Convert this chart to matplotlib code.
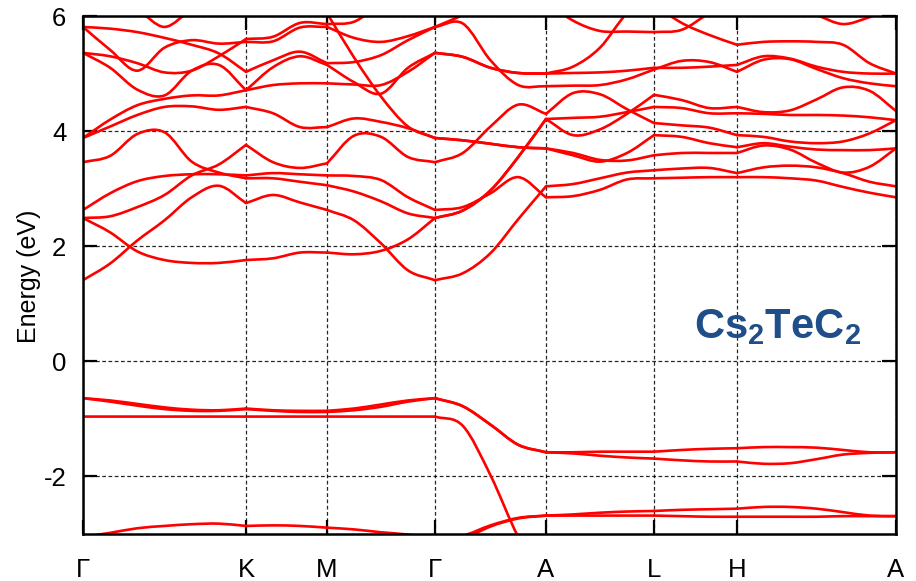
import numpy as np
import matplotlib
matplotlib.use('Agg')
import matplotlib.pyplot as plt
from matplotlib.path import Path
from matplotlib.patches import PathPatch

# ---------------- data ----------------
kpath_labels = ['Γ', 'K', 'M', 'Γ', 'A', 'L', 'H', 'A']
kpath_pos = [0, 163, 244, 352, 463, 571, 654, 813]
seg_npts = [7, 4, 5, 5, 5, 4, 7]          # samples per segment incl. ends
energy_ticks = [-2, 0, 2, 4, 6]
e_min, e_max = -3.0, 6.0

# conduction bands (eV), 31 k-samples: GK(7) KM(3) MG(4) GA(4) AL(4) LH(3) HA(6)
c1 = [1.41, 1.70, 2.10, 2.45, 2.85, 3.05, 2.75,  2.89, 2.76, 2.63,  2.45, 2.05, 1.58, 1.41,
      1.53, 1.88, 2.47, 3.04,  3.08, 3.18, 3.28, 3.32,  3.35, 3.36, 3.27,
      3.37, 3.40, 3.37, 3.27, 3.12, 3.04]
c2 = [2.49, 2.24, 1.91, 1.76, 1.71, 1.71, 1.76,  1.79, 1.89, 1.89,  1.86, 1.92, 2.12, 2.49,
      2.62, 2.97, 3.55, 4.21,  4.23, 4.25, 4.33, 4.42,  4.40, 4.31, 4.31,
      4.30, 4.28, 4.28, 4.27, 4.24, 4.19]
c3 = [2.49, 2.52, 2.68, 2.89, 3.23, 3.42, 3.76,  3.46, 3.36, 3.44,  3.92, 3.90, 3.55, 3.46,
      3.62, 4.08, 4.46, 4.30,  4.66, 4.64, 4.38, 4.14,  4.10, 4.06, 3.93,
      3.90, 3.82, 3.79, 3.82, 3.96, 4.19]
c4 = [2.63, 2.92, 3.13, 3.22, 3.25, 3.25, 3.23,  3.27, 3.25, 3.23,  3.22, 3.15, 2.85, 2.63,
      2.68, 2.92, 3.20, 2.85,  2.87, 2.98, 3.16, 3.18,  3.19, 3.20, 3.20,
      3.20, 3.18, 3.14, 3.03, 2.93, 2.85]
c5 = [3.46, 3.57, 3.95, 3.98, 3.47, 3.28, 3.18,  3.18, 3.12, 3.06,  2.95, 2.78, 2.57, 2.49,
      2.62, 2.97, 3.55, 4.21,  3.93, 4.03, 4.30, 4.63,  4.54, 4.40, 4.42,
      4.33, 4.36, 4.55, 4.76, 4.70, 4.35]
c6 = [3.88, 4.08, 4.28, 4.42, 4.43, 4.37, 4.42,  4.31, 4.07, 4.07,  4.22, 4.16, 4.05, 3.88,
      3.84, 3.78, 3.72, 3.70,  3.62, 3.50, 3.49, 3.58,  3.62, 3.62, 3.62,
      3.75, 3.68, 3.45, 3.28, 3.38, 3.70]
c7 = [3.88, 4.20, 4.45, 4.56, 4.62, 4.62, 4.71,  4.80, 4.83, 4.83,  4.81, 4.80, 5.03, 5.36,
      5.29, 5.10, 5.01, 5.00,  5.01, 5.02, 5.05, 5.10,  5.10, 5.12, 5.15,
      5.30, 5.26, 5.12, 5.03, 5.00, 5.00]
c8 = [5.36, 5.10, 4.72, 4.62, 5.05, 5.15, 4.71,  5.11, 5.30, 5.15,  4.85, 4.65, 5.10, 5.36,
      5.29, 5.10, 5.01, 5.00,  5.12, 5.45, 6.05, 6.40,  6.40, 6.40, 6.40,
      6.35, 6.20, 6.02, 5.86, 5.98, 6.15]
c9 = [5.36, 5.30, 5.18, 5.02, 5.05, 5.30, 5.60,  5.64, 5.88, 5.86,  5.90, 6.20, 6.30, 6.30,
      6.30, 6.30, 6.30, 6.30,  6.30, 6.30, 6.30, 6.20,  5.88, 5.67, 5.50,
      5.55, 5.56, 5.55, 5.50, 5.18, 5.00]
c10 = [5.81, 5.78, 5.72, 5.62, 5.50, 5.35, 5.03,  5.23, 5.38, 5.18,  5.20, 5.32, 5.58, 5.81,
       6.02, 6.30, 6.40, 6.25,  5.92, 5.74, 5.73, 5.72,  5.76, 6.05, 6.30,
       6.40, 6.40, 6.40, 6.40, 6.40, 6.40]
c11 = [5.81, 5.41, 5.05, 5.45, 5.58, 5.52, 5.55,  5.56, 5.80, 5.81,  5.62, 5.55, 5.65, 5.81,
       5.87, 5.23, 4.80, 4.78,  4.79, 4.80, 4.90, 5.07,  5.22, 5.20, 5.03,
       5.24, 5.25, 5.08, 4.92, 4.83, 4.78]
c12 = [6.15, 6.20, 6.10, 5.81, 6.10, 6.20, 6.00,  6.15, 6.20, 6.05,  5.28, 4.60, 4.08, 3.88,
       3.84, 3.78, 3.72, 3.70,  3.58, 3.47, 3.62, 3.93,  3.90, 3.79, 3.72,
       3.79, 3.73, 3.68, 3.67, 3.67, 3.70]

# valence bands (eV)
v1 = [-0.64, -0.68, -0.74, -0.80, -0.84, -0.85, -0.82,  -0.85, -0.86, -0.86,  -0.82, -0.75, -0.68, -0.64,
      -0.78, -1.10, -1.45, -1.58,  -1.58, -1.57, -1.57, -1.57,  -1.54, -1.52, -1.51,
      -1.49, -1.49, -1.50, -1.54, -1.58, -1.58]
v2 = [-0.64, -0.70, -0.77, -0.83, -0.86, -0.86, -0.83,  -0.86, -0.88, -0.88,  -0.85, -0.79, -0.70, -0.64,
      -0.78, -1.10, -1.45, -1.58,  -1.60, -1.64, -1.67, -1.69,  -1.72, -1.74, -1.74,
      -1.78, -1.77, -1.70, -1.62, -1.59, -1.58]
v3 = [-0.96, -0.96, -0.96, -0.96, -0.96, -0.96, -0.96,  -0.96, -0.96, -0.96,  -0.96, -0.96, -0.96, -0.96,
      -1.12, -1.98, -3.05, -3.80,  -3.80, -3.80, -3.80, -3.80,  -3.80, -3.80, -3.80,
      -3.80, -3.80, -3.80, -3.80, -3.80, -3.80]
v4 = [-3.05, -2.98, -2.90, -2.86, -2.83, -2.82, -2.86,  -2.85, -2.86, -2.89,  -2.92, -2.97, -3.01, -3.08,
      -3.03, -2.85, -2.72, -2.68,  -2.66, -2.63, -2.61, -2.60,  -2.58, -2.57, -2.56,
      -2.53, -2.53, -2.56, -2.62, -2.68, -2.69]
v5 = [-3.30, -3.30, -3.30, -3.30, -3.30, -3.30, -3.30,  -3.30, -3.30, -3.30,  -3.30, -3.30, -3.30, -3.30,
      -3.10, -2.87, -2.73, -2.68,  -2.68, -2.68, -2.68, -2.68,  -2.69, -2.70, -2.70,
      -2.70, -2.70, -2.70, -2.69, -2.69, -2.69]

bands = [c1, c2, c3, c4, c5, c6, c7, c8, c9, c10, c11, c12, v1, v2, v3, v4, v5]

# ---------------- k grid ----------------
k = []
seg_bounds = [0]
for i, n in enumerate(seg_npts):
    seg = np.linspace(kpath_pos[i], kpath_pos[i + 1], n)
    k.extend(seg if i == 0 else seg[1:])
    seg_bounds.append(len(k) - 1)
k = np.array(k)


def smooth_path(xs, ys):
    pts = np.column_stack([xs, ys]).astype(float)
    m = np.zeros_like(pts)
    m[1:-1] = (pts[2:] - pts[:-2]) / 2.0
    m[0] = pts[1] - pts[0]
    m[-1] = pts[-1] - pts[-2]
    verts = [pts[0]]
    codes = [Path.MOVETO]
    for i in range(len(pts) - 1):
        verts += [pts[i] + m[i] / 3.0, pts[i + 1] - m[i + 1] / 3.0, pts[i + 1]]
        codes += [Path.CURVE4] * 3
    return Path(verts, codes)


# ---------------- figure ----------------
plt.rcParams['font.family'] = ['Liberation Sans', 'DejaVu Sans']
plt.rcParams['axes.unicode_minus'] = False
plt.rcParams['mathtext.fontset'] = 'custom'
plt.rcParams['mathtext.bf'] = 'Liberation Sans:bold'
plt.rcParams['mathtext.rm'] = 'Liberation Sans'

fig = plt.figure(figsize=(9.16, 5.81), dpi=100)
ax = fig.add_axes([83 / 916, 1 - 534 / 581, (896 - 83) / 916, (534 - 16) / 581])

for band in bands:
    e = np.array(band)
    for s in range(len(seg_bounds) - 1):
        a, b = seg_bounds[s], seg_bounds[s + 1]
        p = smooth_path(k[a:b + 1], e[a:b + 1])
        ax.add_patch(PathPatch(p, fill=False, edgecolor='#ff0000', linewidth=1.9,
                               capstyle='round', joinstyle='round', zorder=2))

ax.set_xlim(kpath_pos[0], kpath_pos[-1])
ax.set_ylim(e_min, e_max)
ax.set_xticks(kpath_pos)
ax.set_xticklabels(kpath_labels)
ax.set_yticks(energy_ticks)
ax.set_yticklabels([str(t) for t in energy_ticks])

ax.set_axisbelow(True)
ax.grid(True, linestyle=(0, (3, 2)), color='black', linewidth=0.9, alpha=0.85)
ax.tick_params(direction='in', length=10, width=1.6, top=True, right=True,
               labelsize=18.5, colors='black')
ax.tick_params(axis='x', pad=17)
ax.tick_params(axis='y', pad=12)
for sp in ax.spines.values():
    sp.set_linewidth(1.8)
    sp.set_zorder(5)

fig.text(29 / 916, 1 - 276 / 581, 'Energy (eV)', rotation=90, fontsize=18,
         ha='center', va='center')
fig.text(778 / 916, 1 - 327 / 581, r'$\mathbf{Cs_2TeC_2}$', fontsize=30,
         color='#1f4e89', ha='center', va='center')

fig.savefig('out.png', dpi=100)
